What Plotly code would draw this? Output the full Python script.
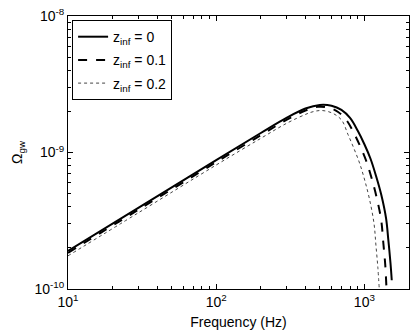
import plotly.graph_objects as go

# z_inf = 0 (solid)
freq_z0 = [10, 30, 100, 200, 300, 400, 500, 600, 700, 800, 900, 1000, 1100,
           1200, 1300, 1400, 1450, 1500, 1530]
omega_z0 = [1.90e-10, 3.95e-10, 8.8e-10, 1.39e-9, 1.80e-9, 2.10e-9, 2.23e-9,
            2.20e-9, 2.05e-9, 1.79e-9, 1.45e-9, 1.15e-9, 9.0e-10, 6.7e-10,
            4.9e-10, 3.3e-10, 2.3e-10, 1.55e-10, 1.16e-10]

# z_inf = 0.1 (dashed)
freq_z1 = [10, 30, 100, 200, 300, 400, 485, 573, 665, 756, 846, 937, 1028,
           1118, 1209, 1298, 1341, 1383, 1410]
omega_z1 = [1.84e-10, 3.82e-10, 8.5e-10, 1.34e-9, 1.74e-9, 2.03e-9, 2.16e-9,
            2.13e-9, 1.98e-9, 1.73e-9, 1.40e-9, 1.11e-9, 8.7e-10, 6.5e-10,
            4.7e-10, 3.2e-10, 2.2e-10, 1.5e-10, 1.0e-10]

# z_inf = 0.2 (dotted)
freq_z2 = [10, 30, 100, 200, 300, 400, 450, 520, 616, 704, 774, 850, 930,
           1008, 1085, 1162, 1196, 1233, 1260]
omega_z2 = [1.75e-10, 3.63e-10, 8.1e-10, 1.27e-9, 1.64e-9, 1.90e-9, 1.99e-9,
            2.03e-9, 1.93e-9, 1.72e-9, 1.36e-9, 1.07e-9, 8.3e-10, 6.2e-10,
            4.5e-10, 3.0e-10, 2.1e-10, 1.43e-10, 1.0e-10]

x_ticks = [10, 100, 1000]
x_ticktext = ["10<sup>1</sup>", "10<sup>2</sup>", "10<sup>3</sup>"]
y_ticks = [1e-10, 1e-9, 1e-8]
y_ticktext = ["10<sup>-10</sup>", "10<sup>-9</sup>", "10<sup>-8</sup>"]

font = "Liberation Sans, Arial, sans-serif"

fig = go.Figure()
fig.add_trace(go.Scatter(x=freq_z0, y=omega_z0, mode="lines", line_shape="spline",
                         name="z<sub>inf</sub> = 0", legendgroup="a",
                         line=dict(color="black", width=2)))
fig.add_trace(go.Scatter(x=freq_z1, y=omega_z1, mode="lines", line_shape="spline",
                         name="z<sub>inf</sub> = 0.1", legendgroup="b",
                         line=dict(color="black", width=2, dash="dash")))
fig.add_trace(go.Scatter(x=freq_z2, y=omega_z2, mode="lines", line_shape="spline",
                         name="z<sub>inf</sub> = 0.2", legendgroup="c",
                         line=dict(color="#444444", width=1, dash="dot")))

axis_common = dict(
    showline=True, linecolor="black", linewidth=1, mirror="ticks",
    ticks="inside", ticklen=5, tickcolor="black",
    showgrid=False, zeroline=False, automargin=False,
    tickfont=dict(family=font, size=14, color="black"),
    minor=dict(ticks="inside", ticklen=3, tickcolor="black", dtick="D1", showgrid=False),
)

fig.update_layout(
    width=415, height=331,
    margin=dict(l=68, r=6, t=16, b=42),
    paper_bgcolor="white", plot_bgcolor="white",
    font=dict(family=font, size=14, color="black"),
    showlegend=True,
    legend=dict(x=0.012, y=0.985, xanchor="left", yanchor="top",
                bordercolor="black", borderwidth=1, bgcolor="white",
                tracegroupgap=2, itemwidth=30,
                font=dict(family=font, size=14, color="black")),
    xaxis=dict(type="log", range=[1, 3.30103], tickvals=x_ticks, ticktext=x_ticktext,
               title=dict(text="Frequency (Hz)", standoff=8, font=dict(size=14)),
               **axis_common),
    yaxis=dict(type="log", range=[-10, -8], tickvals=y_ticks, ticktext=y_ticktext,
               title=dict(text="Ω<sub>gw</sub>", standoff=8, font=dict(size=14)),
               **axis_common),
)

fig.write_html("out.html", config={"displayModeBar": False},
               post_script="document.body.style.margin='0';")
